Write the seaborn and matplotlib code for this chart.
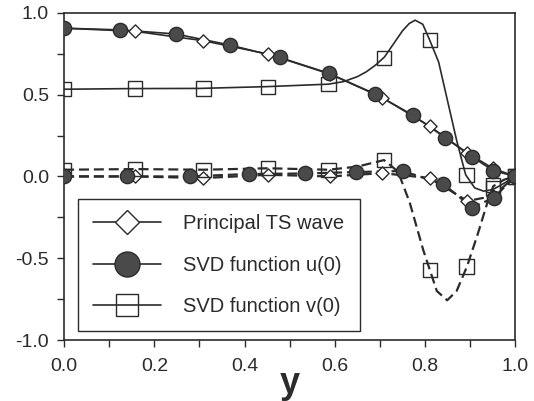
import numpy as np
import pandas as pd
import seaborn as sns
import matplotlib.pyplot as plt
from matplotlib.lines import Line2D
from matplotlib.ticker import MultipleLocator

# Principal TS wave: real (solid) and imaginary (dashed) parts
ts_x = [0.0, 0.157, 0.308, 0.452, 0.59, 0.705, 0.81, 0.894, 0.95, 1.0]
ts_re = [0.906, 0.887, 0.830, 0.748, 0.625, 0.482, 0.307, 0.143, 0.05, 0.0]
ts_im = [0.0, 0.0, -0.01, 0.01, 0.0, 0.02, -0.01, -0.15, -0.12, 0.0]

# SVD function u(0)
u_re_x = [0.0, 0.123, 0.247, 0.368, 0.478, 0.586, 0.688, 0.773, 0.845, 0.905, 0.951, 1.0]
u_re = [0.906, 0.896, 0.871, 0.803, 0.727, 0.631, 0.506, 0.375, 0.236, 0.118, 0.036, 0.0]
u_im_x = [0.0, 0.139, 0.278, 0.41, 0.533, 0.648, 0.75, 0.839, 0.905, 0.952, 1.0]
u_im = [0.0, 0.0, 0.0, 0.015, 0.018, 0.027, 0.033, -0.044, -0.19, -0.13, 0.0]

# SVD function v(0): markers
v_x = [0.0, 0.158, 0.309, 0.452, 0.586, 0.709, 0.811, 0.892, 0.951, 1.0]
v_re = [0.533, 0.537, 0.537, 0.549, 0.564, 0.722, 0.835, 0.01, -0.07, 0.0]
v_im = [0.041, 0.045, 0.041, 0.05, 0.041, 0.10, -0.572, -0.55, -0.05, 0.0]

# SVD function v(0): curves
v_re_cx = [0.0, 0.15, 0.3, 0.45, 0.586, 0.62, 0.65, 0.67, 0.69, 0.71, 0.73, 0.75,
           0.765, 0.778, 0.795, 0.81, 0.83, 0.85, 0.87, 0.89, 0.91, 0.93, 0.95, 0.97, 1.0]
v_re_cy = [0.533, 0.537, 0.538, 0.549, 0.564, 0.58, 0.61, 0.64, 0.68, 0.73, 0.81, 0.89,
           0.935, 0.955, 0.93, 0.835, 0.70, 0.46, 0.22, 0.01, -0.07, -0.09, -0.08, -0.05, 0.0]
v_im_cx = [0.0, 0.158, 0.309, 0.452, 0.586, 0.65, 0.709, 0.74, 0.766, 0.796, 0.826,
           0.849, 0.87, 0.893, 0.917, 0.937, 0.951, 0.975, 1.0]
v_im_cy = [0.041, 0.045, 0.041, 0.05, 0.041, 0.06, 0.10, 0.03, -0.16, -0.45, -0.70,
           -0.757, -0.70, -0.55, -0.35, -0.17, -0.06, -0.02, 0.0]

sns.set_style("ticks")
plt.rcParams['font.family'] = ['Liberation Sans', 'DejaVu Sans']

ink = '#2b2b2b'
fill = '#4a4a4a'

fig = plt.figure(figsize=(5.34, 4.01), dpi=100)
ax = fig.add_axes([0.12, 0.152, 0.845, 0.816])

def curve(x, y, dashed):
    sns.lineplot(x=x, y=y, ax=ax, sort=False, estimator=None, color=ink,
                 lw=1.6 if dashed else 1.2, linestyle=(0, (4.5, 2.2)) if dashed else '-',
                 legend=False)

def marks(x, y, marker, face, size):
    sns.scatterplot(x=x, y=y, ax=ax, marker=marker, s=size, facecolor=face,
                    edgecolor=ink, linewidth=1.0, legend=False, zorder=3)

curve(ts_x, ts_re, False)
curve(ts_x, ts_im, True)
curve(u_re_x, u_re, False)
curve(u_im_x, u_im, True)
curve(v_re_cx, v_re_cy, False)
curve(v_im_cx, v_im_cy, True)

marks(ts_x, ts_re, 'D', 'white', 45)
marks(ts_x, ts_im, 'D', 'white', 45)
marks(v_x, v_re, 's', 'none', 105)
marks(v_x, v_im, 's', 'none', 105)
marks(u_re_x, u_re, 'o', fill, 105)
marks(u_im_x, u_im, 'o', fill, 105)

ax.set_xlim(0, 1.0)
ax.set_ylim(-1.0, 1.0)
ax.xaxis.set_major_locator(MultipleLocator(0.2))
ax.xaxis.set_minor_locator(MultipleLocator(0.1))
ax.yaxis.set_major_locator(MultipleLocator(0.5))
ax.yaxis.set_minor_locator(MultipleLocator(0.25))
ax.xaxis.set_major_formatter(plt.FormatStrFormatter('%.1f'))
ax.yaxis.set_major_formatter(plt.FormatStrFormatter('%.1f'))
ax.tick_params(which='both', direction='out', color=ink, width=1.0, length=4.8,
               labelsize=14, labelcolor=ink)
ax.tick_params(axis='x', which='both', pad=8)
ax.tick_params(axis='y', which='both', pad=6)
for sp in ax.spines.values():
    sp.set_visible(True)
    sp.set_color(ink)
    sp.set_linewidth(1.2)
ax.set_xlabel('y', fontsize=26, fontweight='bold', color=ink, labelpad=-6)
ax.set_ylabel('')

handles = [
    Line2D([], [], color=ink, lw=1.2, marker='D', markersize=12.5, markerfacecolor='white',
           markeredgecolor=ink),
    Line2D([], [], color=ink, lw=1.2, marker='o', markersize=18, markerfacecolor=fill,
           markeredgecolor=ink),
    Line2D([], [], color=ink, lw=1.2, marker='s', markersize=16, markerfacecolor='none',
           markeredgecolor=ink),
]
labels = ['Principal TS wave', 'SVD function u(0)', 'SVD function v(0)']
leg = ax.legend(handles, labels, loc='lower left', bbox_to_anchor=(0.03, 0.028),
                borderaxespad=0, fontsize=14.5, handlelength=3.4, labelspacing=1.1,
                handletextpad=1.1, borderpad=0.75, fancybox=False, framealpha=1,
                edgecolor=ink)
leg.get_frame().set_linewidth(1.0)
for t in leg.get_texts():
    t.set_color(ink)

fig.savefig('out.png', dpi=100, facecolor='white')
